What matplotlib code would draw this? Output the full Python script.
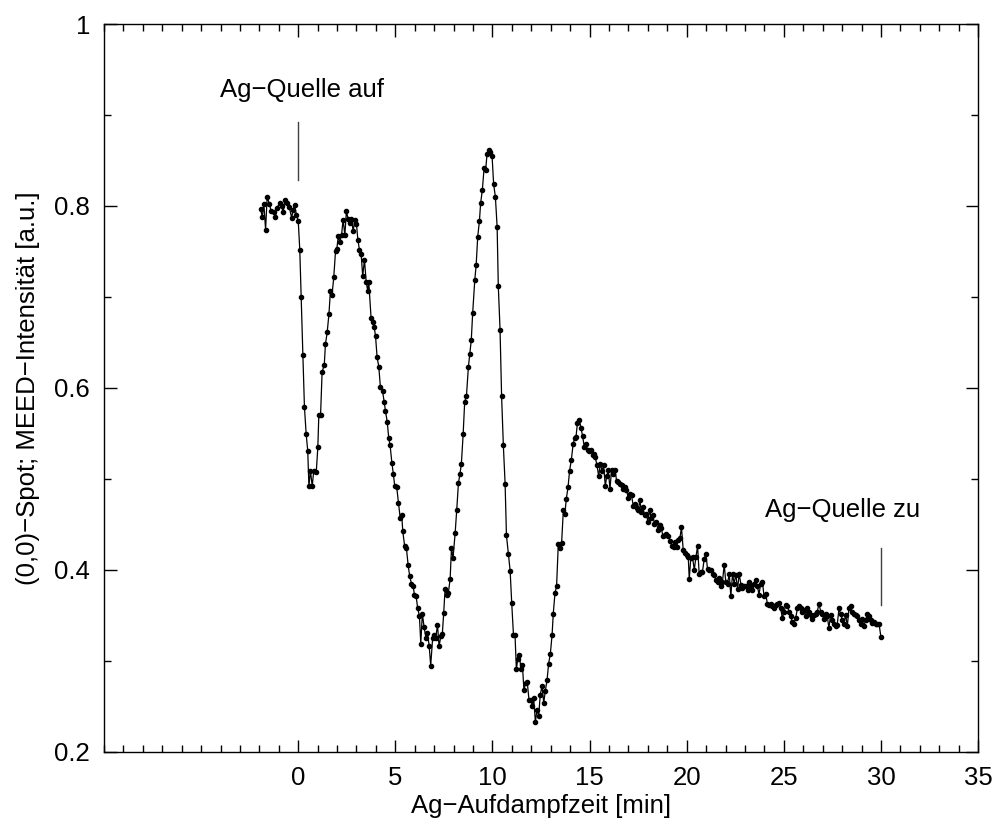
import numpy as np
import matplotlib
matplotlib.use("Agg")
import matplotlib.pyplot as plt
from matplotlib.ticker import MultipleLocator, FormatStrFormatter

plt.rcParams["font.family"] = ["Liberation Sans", "DejaVu Sans"]

# (0,0)-spot MEED intensity during Ag deposition
t_min = [
    -1.94, -1.85, -1.77, -1.68, -1.60, -1.48, -1.39, -1.27, -1.17, -1.10,
    -0.96, -0.86, -0.77, -0.69, -0.59, -0.46, -0.34, -0.26, -0.19, -0.09,
    0.00, 0.08, 0.15, 0.24, 0.32, 0.41, 0.49, 0.55, 0.63, 0.72,
    0.80, 0.93, 1.01, 1.06, 1.15, 1.23, 1.34, 1.40, 1.49, 1.58,
    1.66, 1.74, 1.83, 1.92, 1.99, 2.06, 2.14, 2.23, 2.31, 2.40,
    2.48, 2.57, 2.66, 2.74, 2.83, 2.91, 3.00, 3.07, 3.15, 3.24,
    3.32, 3.41, 3.50, 3.58, 3.63, 3.75, 3.84, 3.91, 3.98, 4.06,
    4.15, 4.23, 4.34, 4.42, 4.49, 4.58, 4.66, 4.73, 4.82, 4.90,
    4.97, 5.07, 5.16, 5.25, 5.33, 5.38, 5.48, 5.57, 5.66, 5.74,
    5.83, 5.92, 5.98, 6.07, 6.15, 6.24, 6.31, 6.39, 6.48, 6.58,
    6.65, 6.74, 6.82, 6.92, 7.01, 7.08, 7.17, 7.25, 7.34, 7.42,
    7.49, 7.56, 7.64, 7.73, 7.82, 7.89, 7.97, 8.08, 8.16, 8.25,
    8.33, 8.40, 8.49, 8.57, 8.66, 8.76, 8.83, 8.91, 8.98, 9.09,
    9.16, 9.24, 9.33, 9.39, 9.48, 9.57, 9.65, 9.72, 9.80, 9.89,
    9.98, 10.06, 10.15, 10.24, 10.30, 10.39, 10.47, 10.56, 10.65, 10.72,
    10.82, 10.91, 10.99, 11.08, 11.16, 11.23, 11.30, 11.38, 11.47, 11.54,
    11.62, 11.71, 11.79, 11.88, 11.98, 12.05, 12.12, 12.21, 12.29, 12.38,
    12.46, 12.55, 12.64, 12.72, 12.81, 12.89, 12.98, 13.07, 13.13, 13.22,
    13.30, 13.39, 13.48, 13.56, 13.65, 13.73, 13.80, 13.89, 13.97, 14.06,
    14.15, 14.23, 14.30, 14.37, 14.47, 14.56, 14.64, 14.73, 14.81, 14.90,
    14.99, 15.07, 15.16, 15.23, 15.29, 15.38, 15.47, 15.55, 15.64, 15.72,
    15.81, 15.88, 15.96, 16.05, 16.13, 16.22, 16.31, 16.39, 16.48, 16.56,
    16.65, 16.73, 16.82, 16.90, 16.99, 17.08, 17.16, 17.25, 17.34, 17.42,
    17.51, 17.59, 17.66, 17.75, 17.83, 17.92, 18.00, 18.09, 18.17, 18.26,
    18.34, 18.43, 18.52, 18.60, 18.69, 18.78, 18.86, 18.95, 19.03, 19.15,
    19.24, 19.32, 19.41, 19.48, 19.56, 19.65, 19.73, 19.82, 19.91, 19.99,
    20.08, 20.13, 20.21, 20.30, 20.39, 20.47, 20.56, 20.64, 20.73, 20.81,
    20.90, 20.99, 21.07, 21.16, 21.24, 21.33, 21.41, 21.50, 21.59, 21.67,
    21.76, 21.84, 21.93, 22.01, 22.10, 22.19, 22.27, 22.36, 22.44, 22.53,
    22.62, 22.70, 22.79, 22.87, 22.96, 23.04, 23.13, 23.21, 23.30, 23.38,
    23.47, 23.55, 23.64, 23.72, 23.81, 23.90, 23.98, 24.07, 24.15, 24.24,
    24.32, 24.41, 24.50, 24.58, 24.67, 24.75, 24.84, 24.92, 25.01, 25.10,
    25.18, 25.27, 25.35, 25.44, 25.52, 25.61, 25.70, 25.78, 25.87, 25.95,
    26.04, 26.12, 26.21, 26.30, 26.38, 26.47, 26.55, 26.64, 26.72, 26.81,
    26.90, 26.98, 27.07, 27.15, 27.24, 27.32, 27.41, 27.50, 27.58, 27.67,
    27.75, 27.84, 27.92, 28.01, 28.10, 28.18, 28.27, 28.35, 28.44, 28.52,
    28.61, 28.70, 28.78, 28.87, 28.95, 29.04, 29.12, 29.21, 29.30, 29.38,
    29.47, 29.55, 29.64, 29.72, 29.81, 29.90, 30.00,
]

intensity = [
    0.797, 0.788, 0.802, 0.774, 0.810, 0.802, 0.794, 0.793, 0.788, 0.798,
    0.803, 0.800, 0.793, 0.807, 0.803, 0.799, 0.787, 0.796, 0.801, 0.790,
    0.784, 0.752, 0.700, 0.636, 0.579, 0.549, 0.531, 0.492, 0.509, 0.492,
    0.509, 0.508, 0.535, 0.570, 0.570, 0.618, 0.625, 0.648, 0.661, 0.681,
    0.707, 0.702, 0.722, 0.750, 0.753, 0.767, 0.760, 0.768, 0.785, 0.768,
    0.794, 0.786, 0.781, 0.786, 0.772, 0.785, 0.780, 0.763, 0.752, 0.747,
    0.723, 0.741, 0.716, 0.707, 0.717, 0.677, 0.673, 0.667, 0.657, 0.634,
    0.623, 0.601, 0.597, 0.585, 0.575, 0.563, 0.545, 0.537, 0.518, 0.505,
    0.492, 0.491, 0.474, 0.457, 0.460, 0.443, 0.426, 0.424, 0.405, 0.393,
    0.385, 0.382, 0.373, 0.371, 0.358, 0.349, 0.319, 0.352, 0.337, 0.325,
    0.331, 0.317, 0.295, 0.325, 0.329, 0.325, 0.340, 0.316, 0.327, 0.330,
    0.353, 0.379, 0.373, 0.375, 0.390, 0.424, 0.413, 0.441, 0.466, 0.496,
    0.506, 0.517, 0.549, 0.585, 0.591, 0.623, 0.637, 0.653, 0.682, 0.719,
    0.735, 0.766, 0.784, 0.803, 0.818, 0.842, 0.840, 0.857, 0.861, 0.859,
    0.855, 0.824, 0.810, 0.777, 0.712, 0.664, 0.591, 0.537, 0.495, 0.438,
    0.418, 0.399, 0.364, 0.329, 0.329, 0.291, 0.302, 0.307, 0.291, 0.296,
    0.268, 0.276, 0.277, 0.257, 0.257, 0.251, 0.259, 0.233, 0.246, 0.240,
    0.263, 0.272, 0.254, 0.267, 0.279, 0.297, 0.308, 0.329, 0.352, 0.375,
    0.382, 0.429, 0.424, 0.430, 0.466, 0.462, 0.478, 0.491, 0.509, 0.521,
    0.538, 0.545, 0.546, 0.561, 0.565, 0.556, 0.547, 0.535, 0.538, 0.532,
    0.531, 0.532, 0.526, 0.527, 0.524, 0.515, 0.503, 0.517, 0.509, 0.515,
    0.492, 0.503, 0.510, 0.489, 0.510, 0.506, 0.510, 0.498, 0.497, 0.495,
    0.493, 0.489, 0.491, 0.488, 0.479, 0.484, 0.482, 0.470, 0.473, 0.468,
    0.466, 0.477, 0.464, 0.469, 0.460, 0.462, 0.453, 0.466, 0.457, 0.460,
    0.450, 0.453, 0.444, 0.449, 0.446, 0.437, 0.438, 0.440, 0.437, 0.432,
    0.426, 0.425, 0.431, 0.425, 0.433, 0.435, 0.447, 0.422, 0.419, 0.417,
    0.414, 0.390, 0.413, 0.414, 0.400, 0.414, 0.426, 0.396, 0.398, 0.398,
    0.412, 0.418, 0.401, 0.400, 0.400, 0.396, 0.395, 0.389, 0.387, 0.391,
    0.382, 0.387, 0.406, 0.387, 0.385, 0.396, 0.371, 0.396, 0.385, 0.395,
    0.379, 0.396, 0.384, 0.380, 0.382, 0.382, 0.378, 0.387, 0.382, 0.378,
    0.385, 0.389, 0.382, 0.373, 0.385, 0.387, 0.371, 0.374, 0.363, 0.362,
    0.363, 0.360, 0.358, 0.362, 0.363, 0.364, 0.358, 0.347, 0.354, 0.362,
    0.360, 0.354, 0.349, 0.343, 0.341, 0.347, 0.358, 0.360, 0.358, 0.354,
    0.356, 0.349, 0.358, 0.354, 0.350, 0.346, 0.350, 0.352, 0.354, 0.363,
    0.354, 0.352, 0.346, 0.352, 0.349, 0.336, 0.351, 0.345, 0.341, 0.338,
    0.340, 0.358, 0.352, 0.345, 0.341, 0.351, 0.338, 0.358, 0.360, 0.354,
    0.352, 0.351, 0.349, 0.345, 0.341, 0.346, 0.338, 0.345, 0.352, 0.349,
    0.345, 0.342, 0.343, 0.341, 0.341, 0.341, 0.326,
]

# source shutter events: (label, time, text x, text y, marker line bottom, top)
events = [
    ("Ag\u2212Quelle auf", 0.0, -4.05, 0.927, 0.829, 0.892),
    ("Ag\u2212Quelle zu", 30.0, 24.05, 0.466, 0.362, 0.424),
]

FS = 18.5

fig = plt.figure(figsize=(9.95, 8.22), dpi=100)
ax = fig.add_axes([0.1045, 0.0852, 0.8785, 0.8856])

n = min(len(t_min), len(intensity))
ax.plot(t_min[:n], intensity[:n], color="black", lw=0.9,
        marker="o", markersize=3.0, markerfacecolor="black",
        markeredgecolor="black")

for label, t, tx, ty, y0, y1 in events:
    ax.plot([t, t], [y0, y1], color="0.25", lw=1.0)
    ax.text(tx, ty, label, fontsize=FS, ha="left", va="center")

ax.set_xlim(-10, 35)
ax.set_ylim(0.2, 1.0)
ax.xaxis.set_major_locator(plt.FixedLocator([0, 5, 10, 15, 20, 25, 30, 35]))
ax.xaxis.set_minor_locator(MultipleLocator(1))
ax.yaxis.set_major_locator(MultipleLocator(0.2))
ax.yaxis.set_minor_locator(MultipleLocator(0.1))
ax.yaxis.set_major_formatter(FormatStrFormatter("%g"))

ax.tick_params(which="both", direction="in", top=True, right=True,
               labelsize=FS, width=1.0, pad=10)
ax.tick_params(which="major", length=9)
ax.tick_params(which="minor", length=5)
for sp in ax.spines.values():
    sp.set_linewidth(1.0)

ax.set_xlabel("Ag\u2212Aufdampfzeit [min]", fontsize=FS, labelpad=3)
ax.set_ylabel("(0,0)\u2212Spot; MEED\u2212Intensit\u00e4t [a.u.]", fontsize=FS,
              labelpad=10)

fig.savefig("out.png", dpi=100)
